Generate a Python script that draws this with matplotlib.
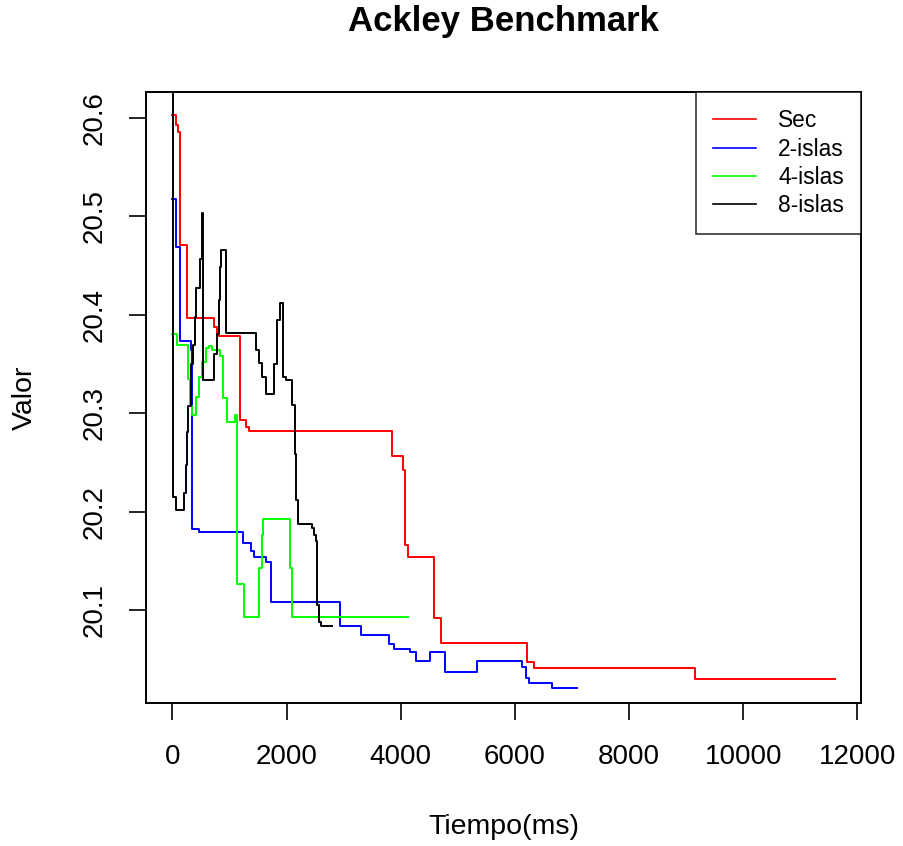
import numpy as np
import matplotlib.pyplot as plt

plt.rcParams['font.family'] = ['Liberation Sans', 'DejaVu Sans']

# tiempo (ms) / valor for each run
sec_t = [0, 58, 103, 133, 150, 250, 727, 785, 1177, 1282, 1340, 3849, 4038,
         4073, 4126, 4584, 4710, 6207, 6341, 9152, 11600]
sec_v = [20.603, 20.593, 20.586, 20.471, 20.471, 20.397, 20.388, 20.378, 20.293,
         20.286, 20.282, 20.257, 20.242, 20.166, 20.154, 20.092, 20.067, 20.047,
         20.041, 20.030, 20.030]

isl2_t = [0, 58, 128, 320, 348, 465, 1240, 1369, 1427, 1642, 1719, 2940, 3304,
          3788, 3875, 4155, 4260, 4505, 4767, 5344, 6097, 6131, 6201, 6249, 6656, 7081]
isl2_v = [20.518, 20.469, 20.373, 20.364, 20.182, 20.179, 20.168, 20.160, 20.154,
          20.149, 20.108, 20.084, 20.075, 20.066, 20.061, 20.057, 20.048, 20.058,
          20.037, 20.048, 20.048, 20.042, 20.031, 20.026, 20.021, 20.021]

isl4_t = [0, 86, 278, 308, 348, 407, 465, 523, 593, 640, 698, 832, 885, 955,
          1095, 1135, 1252, 1514, 1562, 1584, 2051, 2086, 4125]
isl4_v = [20.381, 20.369, 20.335, 20.307, 20.298, 20.317, 20.337, 20.352, 20.366,
          20.368, 20.364, 20.358, 20.315, 20.291, 20.298, 20.127, 20.093, 20.143,
          20.176, 20.193, 20.143, 20.093, 20.093]

isl8_t = [0, 5, 58, 203, 233, 255, 278, 320, 360, 390, 418, 477, 512, 540, 728,
          785, 815, 838, 855, 932, 1467, 1514, 1561, 1642, 1777, 1835, 1877, 1934,
          1981, 2097, 2139, 2156, 2197, 2441, 2476, 2506, 2534, 2564, 2594, 2796]
isl8_v = [20.75, 20.215, 20.202, 20.219, 20.247, 20.281, 20.307, 20.35, 20.369,
          20.398, 20.427, 20.457, 20.503, 20.334, 20.36, 20.381, 20.415, 20.449,
          20.466, 20.382, 20.364, 20.351, 20.337, 20.320, 20.35, 20.395, 20.412,
          20.337, 20.334, 20.308, 20.259, 20.212, 20.188, 20.183, 20.176, 20.170,
          20.105, 20.088, 20.084, 20.084]

series = [('Sec', sec_t, sec_v, '#ff0000'),
          ('2-islas', isl2_t, isl2_v, '#0000ff'),
          ('4-islas', isl4_t, isl4_v, '#00ff00'),
          ('8-islas', isl8_t, isl8_v, 'black')]

fig = plt.figure(figsize=(9.04, 8.46), dpi=100)
ax = fig.add_axes([146 / 904, 1 - 702.7 / 846, 715 / 904, 610.4 / 846])

for name, t, v, c in series:
    ax.plot(t, v, drawstyle='steps-post', color=c, lw=1.4, label=name)

ax.set_xlim(-464, 12064)
ax.set_ylim(20.006, 20.626)
ax.set_xticks(np.arange(0, 12001, 2000))
ax.set_yticks([20.1, 20.2, 20.3, 20.4, 20.5, 20.6])
ax.set_yticklabels(['20.1', '20.2', '20.3', '20.4', '20.5', '20.6'], rotation=90, va='center')
ax.tick_params(length=12.5, width=1.2, labelsize=20, pad=15)
ax.tick_params(axis='x', pad=17)
for s in ax.spines.values():
    s.set_linewidth(1.4)

fig.text(503.5 / 904, 1 - 22 / 846, 'Ackley Benchmark', ha='center', va='center',
         fontsize=25, fontweight='bold')
fig.text(503.5 / 904, 1 - 827 / 846, 'Tiempo(ms)', ha='center', va='center', fontsize=20.5)
fig.text(25 / 904, 1 - 397.5 / 846, 'Valor', ha='center', va='center', fontsize=20.5,
         rotation=90)

leg = ax.legend(loc='upper right', borderaxespad=0, fancybox=False, fontsize=16.4,
                handlelength=1.9, handletextpad=0.95, labelspacing=0.23,
                borderpad=0.75)
leg.get_frame().set_edgecolor('black')
leg.get_frame().set_linewidth(1.2)
for line in leg.get_lines():
    line.set_linewidth(1.2)

fig.savefig('out.png', dpi=100)
